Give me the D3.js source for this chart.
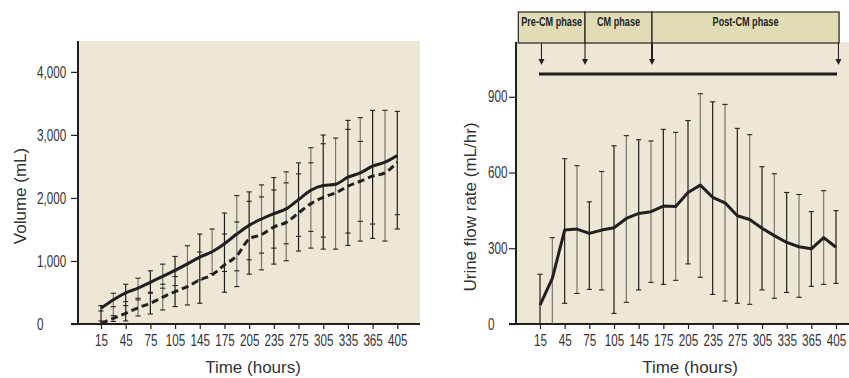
<!DOCTYPE html>
<html>
<head>
<meta charset="utf-8">
<script src="https://cdn.jsdelivr.net/npm/d3@7"></script>
<style>
  body { margin: 0; background: #fff; }
  svg { display: block; }
  .tick text { font-family: "Liberation Sans", Arial, sans-serif; font-size: 16px; fill: #333; }
  .title { font-family: "Liberation Sans", Arial, sans-serif; font-size: 17px; fill: #333; }
  .phase { font-family: "Liberation Sans", Arial, sans-serif; font-size: 12.5px; font-weight: bold; fill: #231f20; }
</style>
</head>
<body>
<svg id="chart" width="849" height="378"></svg>
<script>
// time points (hours), only every other one is labelled
const times = ["15", "30", "45", "60", "75", "90", "105", "125", "145", "160", "175", "190", "205",
  "220", "235", "255", "275", "290", "305", "320", "335", "350", "365", "385", "405"];
const timeLabels = ["15", "45", "75", "105", "145", "175", "205", "235", "275", "305", "335", "365", "405"];

// cumulative volume (mL)
const volSolid = [250, 385, 495, 568, 662, 757, 850, 955, 1062, 1146, 1273, 1427, 1565, 1666, 1751, 1826,
  1974, 2122, 2196, 2217, 2329, 2398, 2504, 2567, 2674];
const volDashed = [10, 90, 170, 258, 330, 425, 515, 594, 700, 780, 939, 1082, 1348, 1417, 1539, 1613,
  1762, 1910, 2010, 2080, 2186, 2265, 2345, 2398, 2567];
const volSolidHi = [292, 488, 631, 727, 844, 950, 1072, 1241, 1427, 1507, 1761, 2037, 2096, 2207, 2324, 2414,
  2557, 2796, 2998, 2950, 3231, 3273, 3390, 3390, 3374];
const volSolidLo = [207, 276, 355, 408, 488, 568, 610, null, 700, 800, 833, 844, 1019, 1125, 1204, 1273,
  1390, 1470, 1379, null, 1443, 1629, 1586, null, 1735];
const volDashedHi = [48, 133, 292, 382, 504, 631, 753, null, 1141, null, 1427, 1618, 1947, 2016, 2127, 2239,
  2382, 2557, 2860, null, 3088, 2897, null, null, null];
const volDashedLo = [0, 40, 48, 127, 159, 223, 276, 302, 329, null, 504, 594, 791, 859, 950, 1003,
  1157, 1204, 1188, 1188, 1247, 1316, 1358, 1316, 1507];
const volTicks = [0, 1000, 2000, 3000, 4000];

// urine flow rate (mL/hr)
const flowMean = [75, 181, 372, 376, 359, 372, 381, 418, 438, 445, 467, 465, 521, 550, 502, 480,
  429, 414, 379, 350, 323, 306, 298, 342, 304];
const flowHi = [197, 342, 655, 627, 484, 604, 706, 746, 730, 725, 771, 759, 806, 912, 880, 870,
  775, 750, 623, 595, 521, 513, 445, 528, 449];
const flowLo = [0, 0, 82, 121, 137, 135, 42, 86, 135, 165, 157, 173, 238, 185, 117, 91,
  82, 78, 135, 102, 125, 106, 149, 157, 161];
const flowTicks = [0, 300, 600, 900];

// phases, positions given in time-step index
const phaseNames = ["Pre-CM phase", "CM phase", "Post-CM phase"];
const phaseEdges = [-1.76, 3.65, 9.08, 24.25];
const phaseArrows = [0.12, 3.65, 9.08, 24.2];
const studyLevel = 990;
const arrowTip = 1030;

const ink = "#231f20";
const squeeze = 0.73; // the print used a condensed face
const svg = d3.select("#chart");

function panel(box, xRange, yMax, ticks, labelOffset) {
  const x = d3.scalePoint().domain(times).range(xRange);
  const xi = d3.scaleLinear().domain([0, times.length - 1]).range(xRange);
  const y = d3.scaleLinear().domain([0, yMax]).range([box.bottom, box.top]);

  svg.append("rect")
    .attr("x", box.left).attr("y", box.top)
    .attr("width", box.right - box.left).attr("height", box.bottom - box.top)
    .attr("fill", "#ece8d5");

  const ya = svg.append("g")
    .attr("transform", `translate(${box.left},0)`)
    .call(d3.axisLeft(y).tickValues(ticks).tickFormat(d3.format(",")).tickSize(7).tickSizeOuter(0));
  ya.select(".domain").remove();
  ya.selectAll(".tick line").attr("stroke", ink).attr("stroke-width", 1.2);
  ya.selectAll(".tick text")
    .attr("text-anchor", "start")
    .attr("x", -labelOffset / squeeze)
    .attr("transform", `scale(${squeeze},1)`);

  const xa = svg.append("g")
    .attr("transform", `translate(0,${box.bottom})`)
    .call(d3.axisBottom(x).tickValues(timeLabels).tickSize(5).tickPadding(6).tickSizeOuter(0));
  xa.select(".domain").remove();
  xa.selectAll(".tick line").attr("stroke", ink).attr("stroke-width", 1.2);
  xa.selectAll(".tick text").attr("transform", `scale(${squeeze},1)`);

  svg.append("line")
    .attr("x1", box.left).attr("x2", box.left)
    .attr("y1", box.top).attr("y2", box.bottom)
    .attr("stroke", ink).attr("stroke-width", 2);
  svg.append("line")
    .attr("x1", box.left - 7).attr("x2", box.right)
    .attr("y1", box.bottom).attr("y2", box.bottom)
    .attr("stroke", ink).attr("stroke-width", 2);

  return { x, xi, y };
}

function errorBars(sc, sets) {
  const g = svg.append("g");
  times.forEach((t, i) => {
    const vals = sets.map(s => s[i]).filter(v => v !== null);
    const cx = sc.x(t);
    g.append("line")
      .attr("x1", cx).attr("x2", cx)
      .attr("y1", sc.y(d3.max(vals))).attr("y2", sc.y(d3.min(vals)))
      .attr("stroke", i % 2 ? "#77756c" : "#1e1e1e").attr("stroke-width", 1.2);
    vals.filter(v => v > 0).forEach(v => {
      g.append("line")
        .attr("x1", cx - 2.6).attr("x2", cx + 2.6)
        .attr("y1", sc.y(v)).attr("y2", sc.y(v))
        .attr("stroke", ink).attr("stroke-width", 1.1);
    });
  });
}

// ---- left: volume ----
const L = panel({ left: 78, right: 420, top: 41, bottom: 324 }, [101, 397.3], 4490, volTicks, 41);
errorBars(L, [volSolidHi, volSolidLo, volDashedHi, volDashedLo]);

const volLine = d3.line()
  .x((d, i) => L.x(times[i]))
  .y(d => L.y(d))
  .curve(d3.curveMonotoneX);

svg.append("path").datum(volDashed)
  .attr("d", volLine).attr("fill", "none")
  .attr("stroke", ink).attr("stroke-width", 3).attr("stroke-dasharray", "7,4");
svg.append("path").datum(volSolid)
  .attr("d", volLine).attr("fill", "none")
  .attr("stroke", ink).attr("stroke-width", 3).attr("stroke-linejoin", "round");

svg.append("text").attr("class", "title")
  .attr("text-anchor", "middle")
  .attr("transform", "translate(26,196) rotate(-90)")
  .text("Volume (mL)");
svg.append("text").attr("class", "title")
  .attr("text-anchor", "middle")
  .attr("x", 253).attr("y", 373)
  .text("Time (hours)");

// ---- right: urine flow rate ----
const R = panel({ left: 516, right: 849, top: 42, bottom: 324 }, [540, 836], 1117, flowTicks, 28);
errorBars(R, [flowHi, flowLo]);

const flowLine = d3.line()
  .x((d, i) => R.x(times[i]))
  .y(d => R.y(d));
svg.append("path").datum(flowMean)
  .attr("d", flowLine).attr("fill", "none")
  .attr("stroke", ink).attr("stroke-width", 3).attr("stroke-linejoin", "round");

// phase header
const phaseTop = 12, phaseBottom = 43;
const ph = svg.append("g");
phaseNames.forEach((name, i) => {
  const x0 = R.xi(phaseEdges[i]), x1 = R.xi(phaseEdges[i + 1]);
  ph.append("rect")
    .attr("x", x0).attr("y", phaseTop)
    .attr("width", x1 - x0).attr("height", phaseBottom - phaseTop)
    .attr("fill", "#e1dcb6").attr("stroke", ink).attr("stroke-width", 1.2);
  ph.append("text").attr("class", "phase")
    .attr("x", (x0 + x1) / 2 / squeeze).attr("y", 26)
    .attr("text-anchor", "middle")
    .attr("transform", `scale(${squeeze},1)`)
    .text(name);
});

phaseArrows.forEach((p, i) => {
  const ax = R.xi(p);
  const tip = R.y(arrowTip);
  svg.append("line")
    .attr("x1", ax).attr("x2", ax)
    .attr("y1", phaseBottom).attr("y2", tip - 2)
    .attr("stroke", ink).attr("stroke-width", i === 2 ? 2 : 1.1);
  svg.append("path")
    .attr("d", `M${ax - 3},${tip - 5}L${ax},${tip + 1}L${ax + 3},${tip - 5}Z`)
    .attr("fill", ink);
});

svg.append("line")
  .attr("x1", R.xi(0) - 1).attr("x2", R.xi(times.length - 1) + 1)
  .attr("y1", R.y(studyLevel)).attr("y2", R.y(studyLevel))
  .attr("stroke", ink).attr("stroke-width", 3);

svg.append("text").attr("class", "title")
  .attr("text-anchor", "middle")
  .attr("transform", "translate(476,207) rotate(-90)")
  .text("Urine flow rate (mL/hr)");
svg.append("text").attr("class", "title")
  .attr("text-anchor", "middle")
  .attr("x", 690).attr("y", 373)
  .text("Time (hours)");
</script>
</body>
</html>
